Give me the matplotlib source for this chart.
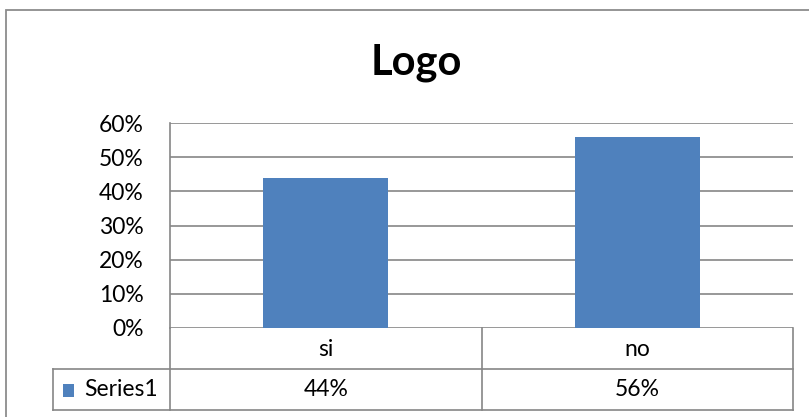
import matplotlib.pyplot as plt
from matplotlib.patches import Rectangle
from matplotlib.lines import Line2D
import matplotlib.transforms as mtrans

categories = ['si', 'no']
values = [0.44, 0.56]
value_labels = ['44%', '56%']
series_name = 'Series1'
yticks = [0, 0.1, 0.2, 0.3, 0.4, 0.5, 0.6]
ytick_labels = ['0%', '10%', '20%', '30%', '40%', '50%', '60%']

W, H = 809, 417
blue = '#4F81BD'
grid = '#868686'
lw = 1.2
fs = 16.5
plt.rcParams['font.family'] = ['Lato', 'DejaVu Sans']

fig = plt.figure(figsize=(W / 100, H / 100), dpi=100)

def fx(px):
    return px / W

def fy(py):
    return 1 - py / H

# outer chart border (only top and left are inside the picture)
fig.add_artist(Rectangle((fx(6), fy(430)), fx(830) - fx(6), fy(10) - fy(430),
                         transform=fig.transFigure, fill=False,
                         edgecolor='#8c8c8c', linewidth=1.3))

ax = fig.add_axes([fx(170), fy(328), fx(793) - fx(170), fy(123) - fy(328)])
x = range(len(categories))
ax.bar(x, values, width=0.4, color=blue, zorder=3)
ax.set_xlim(-0.5, len(categories) - 0.5)
ax.set_ylim(0, 0.6)
ax.set_yticks(yticks)
ax.set_yticklabels(ytick_labels, fontsize=fs)
ax.set_xticks([])
ax.tick_params(axis='y', length=0, pad=19)
for t in yticks:
    ax.axhline(t, color=grid, linewidth=lw, zorder=1)
for s in ['top', 'right', 'bottom']:
    ax.spines[s].set_visible(False)
ax.spines['left'].set_color(grid)
ax.spines['left'].set_linewidth(lw)

fig.text(fx(416), fy(63), 'Logo', ha='center', va='center',
         fontsize=30, fontweight='bold')

# data table under the plot
tr = mtrans.blended_transform_factory(ax.transData, fig.transFigure)
n = len(categories)
edges = [i - 0.5 for i in range(n + 1)]
for e in edges:
    fig.add_artist(Line2D([e, e], [fy(328), fy(410)], transform=tr,
                          color=grid, linewidth=lw))
left_x = ax.transData.inverted().transform(
    fig.transFigure.transform((fx(53), 0)))[0]
for yy in [369, 410]:
    fig.add_artist(Line2D([left_x, edges[-1]], [fy(yy), fy(yy)], transform=tr,
                          color=grid, linewidth=lw))
fig.add_artist(Line2D([left_x, left_x], [fy(369), fy(410)], transform=tr,
                      color=grid, linewidth=lw))

for i, (c, v) in enumerate(zip(categories, value_labels)):
    fig.text(i, fy(350), c, transform=tr, fontsize=fs, ha='center', va='center')
    fig.text(i, fy(390), v, transform=tr, fontsize=fs, ha='center', va='center')

fig.add_artist(Rectangle((fx(63), fy(397)), fx(11), fy(384) - fy(397),
                         transform=fig.transFigure, facecolor=blue,
                         edgecolor='none'))
fig.text(fx(84), fy(390), series_name, fontsize=fs, ha='left', va='center')

fig.savefig('out.png', dpi=100)
